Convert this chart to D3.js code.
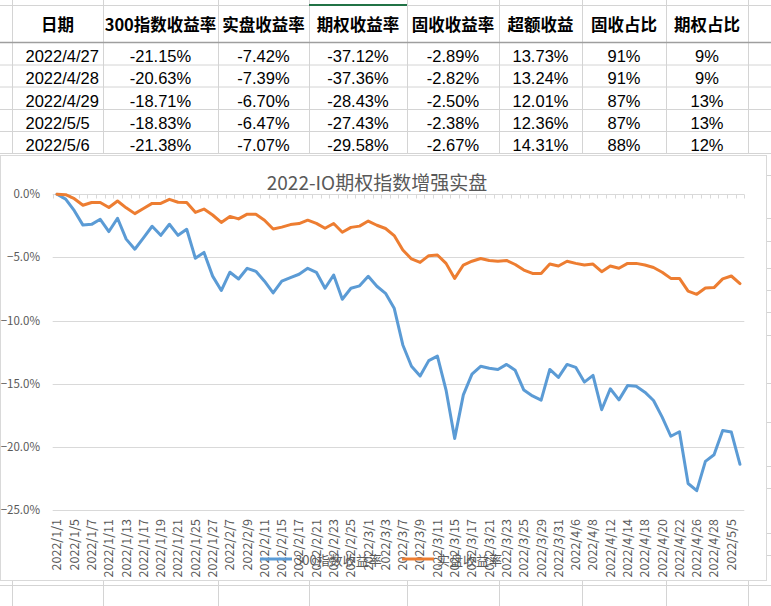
<!DOCTYPE html>
<html>
<head>
<meta charset="utf-8">
<script src="https://cdn.jsdelivr.net/npm/d3@7"></script>
<style>
  body { margin: 0; background: #fff; }
  svg { display: block; }
</style>
</head>
<body>
<div id="hoja"></div>
<script>
// hoja de excel con la tabla arriba y el grafico de lineas encima de las celdas

var fechas = [
  "2022/1/1", "2022/1/4", "2022/1/5", "2022/1/6", "2022/1/7", "2022/1/10", "2022/1/11", "2022/1/12",
  "2022/1/13", "2022/1/14", "2022/1/17", "2022/1/18", "2022/1/19", "2022/1/20", "2022/1/21", "2022/1/24",
  "2022/1/25", "2022/1/26", "2022/1/27", "2022/1/28", "2022/2/7", "2022/2/8", "2022/2/9", "2022/2/10",
  "2022/2/11", "2022/2/14", "2022/2/15", "2022/2/16", "2022/2/17", "2022/2/18", "2022/2/21", "2022/2/22",
  "2022/2/23", "2022/2/24", "2022/2/25", "2022/2/28", "2022/3/1", "2022/3/2", "2022/3/3", "2022/3/4",
  "2022/3/7", "2022/3/8", "2022/3/9", "2022/3/10", "2022/3/11", "2022/3/14", "2022/3/15", "2022/3/16",
  "2022/3/17", "2022/3/18", "2022/3/21", "2022/3/22", "2022/3/23", "2022/3/24", "2022/3/25", "2022/3/28",
  "2022/3/29", "2022/3/30", "2022/3/31", "2022/4/1", "2022/4/6", "2022/4/7", "2022/4/8", "2022/4/11",
  "2022/4/12", "2022/4/13", "2022/4/14", "2022/4/15", "2022/4/18", "2022/4/19", "2022/4/20", "2022/4/21",
  "2022/4/22", "2022/4/25", "2022/4/26", "2022/4/27", "2022/4/28", "2022/4/29", "2022/5/5", "2022/5/6"
];

var indice300 = [
  0, -0.38, -1.30, -2.44, -2.38, -1.98, -2.95, -1.90, -3.55, -4.35,
  -3.45, -2.53, -3.25, -2.37, -3.25, -2.77, -5.06, -4.60, -6.48, -7.62,
  -6.17, -6.71, -5.86, -6.10, -6.88, -7.81, -6.88, -6.60, -6.33, -5.86,
  -6.18, -7.44, -6.39, -8.31, -7.44, -7.25, -6.49, -7.28, -7.84, -9.02,
  -11.93, -13.62, -14.39, -13.17, -12.82, -15.50, -19.33, -15.88, -14.24, -13.62,
  -13.78, -13.87, -13.47, -13.94, -15.50, -15.97, -16.30, -13.87, -14.50, -13.47,
  -13.70, -14.87, -14.34, -17.06, -15.40, -16.28, -15.15, -15.20, -15.67, -16.33,
  -17.65, -19.16, -18.80, -22.90, -23.47, -21.15, -20.63, -18.71, -18.83, -21.38
];

var shipan = [
  0, -0.03, -0.35, -0.87, -0.65, -0.65, -1.05, -0.53, -1.07, -1.53,
  -1.13, -0.72, -0.72, -0.40, -0.63, -0.65, -1.43, -1.17, -1.64, -2.23,
  -1.75, -1.95, -1.57, -1.58, -2.05, -2.75, -2.60, -2.40, -2.32, -2.05,
  -2.30, -2.69, -2.31, -3.01, -2.62, -2.52, -2.12, -2.45, -2.71, -3.27,
  -4.41, -5.12, -5.39, -4.86, -4.81, -5.47, -6.66, -5.60, -5.30, -5.08,
  -5.24, -5.30, -5.24, -5.56, -6.00, -6.27, -6.27, -5.52, -5.68, -5.30,
  -5.47, -5.60, -5.52, -6.13, -5.68, -5.86, -5.47, -5.47, -5.60, -5.80,
  -6.17, -6.66, -6.66, -7.66, -7.92, -7.42, -7.39, -6.70, -6.47, -7.07
];

var yMarcas = [0, -5, -10, -15, -20, -25];
var titulo = "2022-IO期权指数增强实盘";
var nombresSerie = ["300指数收益率", "实盘收益率"];

// la tabla de arriba
var cabecera = ["日期", "300指数收益率", "实盘收益率", "期权收益率", "固收收益率", "超额收益", "固收占比", "期权占比"];
var tablaFechas = ["2022/4/27", "2022/4/28", "2022/4/29", "2022/5/5", "2022/5/6"];
var tabla300 = [-21.15, -20.63, -18.71, -18.83, -21.38];
var tablaShipan = [-7.42, -7.39, -6.70, -6.47, -7.07];
var tablaQiquan = [-37.12, -37.36, -28.43, -27.43, -29.58];
var tablaGushou = [-2.89, -2.82, -2.50, -2.38, -2.67];
var tablaChaoe = [13.73, 13.24, 12.01, 12.36, 14.31];
var tablaGushouPct = [91, 91, 87, 87, 88];
var tablaQiquanPct = [9, 9, 13, 13, 12];

(function () {
  var ANCHO = 771, ALTO = 606;
  var GRIS_CELDA = "#d4d4d4";
  var GRIS_TEXTO = "#595959";
  var AZUL = "#5B9BD5";
  var NARANJA = "#ED7D31";
  var FUENTE = "'Noto Sans CJK SC', 'Noto Sans', sans-serif";

  var svg = d3.select("#hoja").append("svg")
    .attr("width", ANCHO)
    .attr("height", ALTO);

  // ---- celdas de la hoja ----
  var colX = [12, 103, 218, 309, 407, 499, 582, 666, 748];
  var filaY = [42, 64.5, 86.5, 109, 131, 153];
  var hoja = svg.append("g");

  // franja de letras de columna
  hoja.append("line").attr("x1", 0).attr("x2", ANCHO).attr("y1", 5.5).attr("y2", 5.5)
    .attr("stroke", GRIS_CELDA);
  hoja.selectAll("line.col").data(colX).enter().append("line")
    .attr("x1", function (d) { return d + 0.5; }).attr("x2", function (d) { return d + 0.5; })
    .attr("y1", 0).attr("y2", 153)
    .attr("stroke", GRIS_CELDA);
  hoja.selectAll("line.fila").data(filaY).enter().append("line")
    .attr("x1", 0).attr("x2", ANCHO)
    .attr("y1", function (d) { return d + 0.5; }).attr("y2", function (d) { return d + 0.5; })
    .attr("stroke", function (d, i) { return i === 0 ? "#9e9e9e" : GRIS_CELDA; })
    .attr("stroke-width", function (d, i) { return i === 0 ? 1.6 : 1; });
  // columna seleccionada
  hoja.append("rect").attr("x", 309).attr("y", 4).attr("width", 98).attr("height", 2)
    .attr("fill", "#217346");

  // celdas detras del grafico (lo que asoma a la derecha y abajo)
  var filasAsoman = [175, 218, 241, 268, 290, 312, 335, 383, 422, 466, 488, 533, 555];
  hoja.selectAll("line.asoma").data(filasAsoman).enter().append("line")
    .attr("x1", 766).attr("x2", ANCHO)
    .attr("y1", function (d) { return d + 0.5; }).attr("y2", function (d) { return d + 0.5; })
    .attr("stroke", GRIS_CELDA);
  hoja.append("line").attr("x1", 0).attr("x2", ANCHO).attr("y1", 585.5).attr("y2", 585.5)
    .attr("stroke", GRIS_CELDA);
  hoja.selectAll("line.colAbajo").data(colX).enter().append("line")
    .attr("x1", function (d) { return d + 0.5; }).attr("x2", function (d) { return d + 0.5; })
    .attr("y1", 581).attr("y2", ALTO)
    .attr("stroke", GRIS_CELDA);

  // cabecera en negrita
  hoja.selectAll("text.cab").data(cabecera).enter().append("text")
    .attr("x", function (d, i) { return (colX[i] + colX[i + 1]) / 2; })
    .attr("y", 31)
    .attr("text-anchor", "middle")
    .attr("font-family", FUENTE)
    .attr("font-size", 16.5)
    .attr("font-weight", "bold")
    .attr("fill", "#000")
    .text(function (d) { return d; });

  var pct2 = function (v) { return v.toFixed(2) + "%"; };
  var pct0 = function (v) { return v + "%"; };
  var columnas = [
    tabla300.map(pct2), tablaShipan.map(pct2), tablaQiquan.map(pct2), tablaGushou.map(pct2),
    tablaChaoe.map(pct2), tablaGushouPct.map(pct0), tablaQiquanPct.map(pct0)
  ];

  tablaFechas.forEach(function (f, r) {
    var yBase = filaY[r + 1] - 2.5;
    hoja.append("text")
      .attr("x", 25.5).attr("y", yBase)
      .attr("font-family", "'Liberation Sans', Arial, sans-serif")
      .attr("font-size", 16.5)
      .attr("fill", "#000")
      .text(f);
    columnas.forEach(function (col, c) {
      hoja.append("text")
        .attr("x", (colX[c + 1] + colX[c + 2]) / 2)
        .attr("y", yBase)
        .attr("text-anchor", "middle")
        .attr("font-family", "'Liberation Sans', Arial, sans-serif")
        .attr("font-size", 16.5)
        .attr("fill", "#000")
        .text(col[r]);
    });
  });

  // ---- el grafico ----
  var graf = svg.append("g");
  graf.append("rect")
    .attr("x", 0.5).attr("y", 155.5).attr("width", 766).attr("height", 425)
    .attr("fill", "#fff")
    .attr("stroke", "#d9d9d9");

  var x = d3.scaleBand().domain(fechas).range([52.7, 744.3]);
  var y = d3.scaleLinear().domain([-25, 0]).range([510, 194.3]);
  var cx = function (f) { return x(f) + x.bandwidth() / 2; };

  graf.append("text")
    .attr("x", 377).attr("y", 190)
    .attr("text-anchor", "middle")
    .attr("font-family", FUENTE)
    .attr("font-size", 19)
    .attr("fill", GRIS_TEXTO)
    .text(titulo);

  // lineas de division horizontales
  graf.selectAll("line.grid").data(yMarcas).enter().append("line")
    .attr("x1", x.range()[0]).attr("x2", x.range()[1])
    .attr("y1", function (d) { return Math.round(y(d)) + 0.5; })
    .attr("y2", function (d) { return Math.round(y(d)) + 0.5; })
    .attr("stroke", "#d9d9d9");

  graf.selectAll("text.ylab").data(yMarcas).enter().append("text")
    .attr("x", 40).attr("y", function (d) { return y(d); })
    .attr("dy", "0.35em")
    .attr("text-anchor", "end")
    .attr("font-family", FUENTE)
    .attr("font-size", 11.5)
    .attr("fill", GRIS_TEXTO)
    .text(function (d) { return d3.format(".1f")(d) + "%"; });

  // marcas del eje de categorias sobre la linea del 0%
  var bordes = fechas.map(function (f) { return x(f); }).concat([x.range()[1]]);
  var y0 = Math.round(y(0)) + 0.5;
  graf.selectAll("line.tick").data(bordes).enter().append("line")
    .attr("x1", function (d) { return Math.round(d) + 0.5; })
    .attr("x2", function (d) { return Math.round(d) + 0.5; })
    .attr("y1", y0).attr("y2", y0 + 4)
    .attr("stroke", "#d9d9d9");

  // etiquetas de fecha abajo, una si y otra no
  graf.selectAll("text.xlab")
    .data(fechas.filter(function (f, i) { return i % 2 === 0; }))
    .enter().append("text")
    .attr("transform", function (f) { return "translate(" + cx(f) + ",519) rotate(-90)"; })
    .attr("dy", "0.35em")
    .attr("text-anchor", "end")
    .attr("font-family", FUENTE)
    .attr("font-size", 12.5)
    .attr("fill", GRIS_TEXTO)
    .text(function (f) { return f; });

  var linea = d3.line()
    .x(function (d, i) { return cx(fechas[i]); })
    .y(function (d) { return y(d); });

  [[indice300, AZUL], [shipan, NARANJA]].forEach(function (s) {
    graf.append("path")
      .datum(s[0])
      .attr("d", linea)
      .attr("fill", "none")
      .attr("stroke", s[1])
      .attr("stroke-width", 3)
      .attr("stroke-linejoin", "round")
      .attr("stroke-linecap", "round");
  });

  // leyenda (queda encima de las etiquetas, como en el original)
  var leyX = [260, 402];
  var colores = [AZUL, NARANJA];
  nombresSerie.forEach(function (n, i) {
    graf.append("line")
      .attr("x1", leyX[i]).attr("x2", leyX[i] + 32)
      .attr("y1", 559).attr("y2", 559)
      .attr("stroke", colores[i])
      .attr("stroke-width", 3);
    graf.append("text")
      .attr("x", leyX[i] + 35).attr("y", 560)
      .attr("dy", "0.35em")
      .attr("font-family", FUENTE)
      .attr("font-size", 13)
      .attr("fill", GRIS_TEXTO)
      .text(n);
  });
})();
</script>
</body>
</html>
